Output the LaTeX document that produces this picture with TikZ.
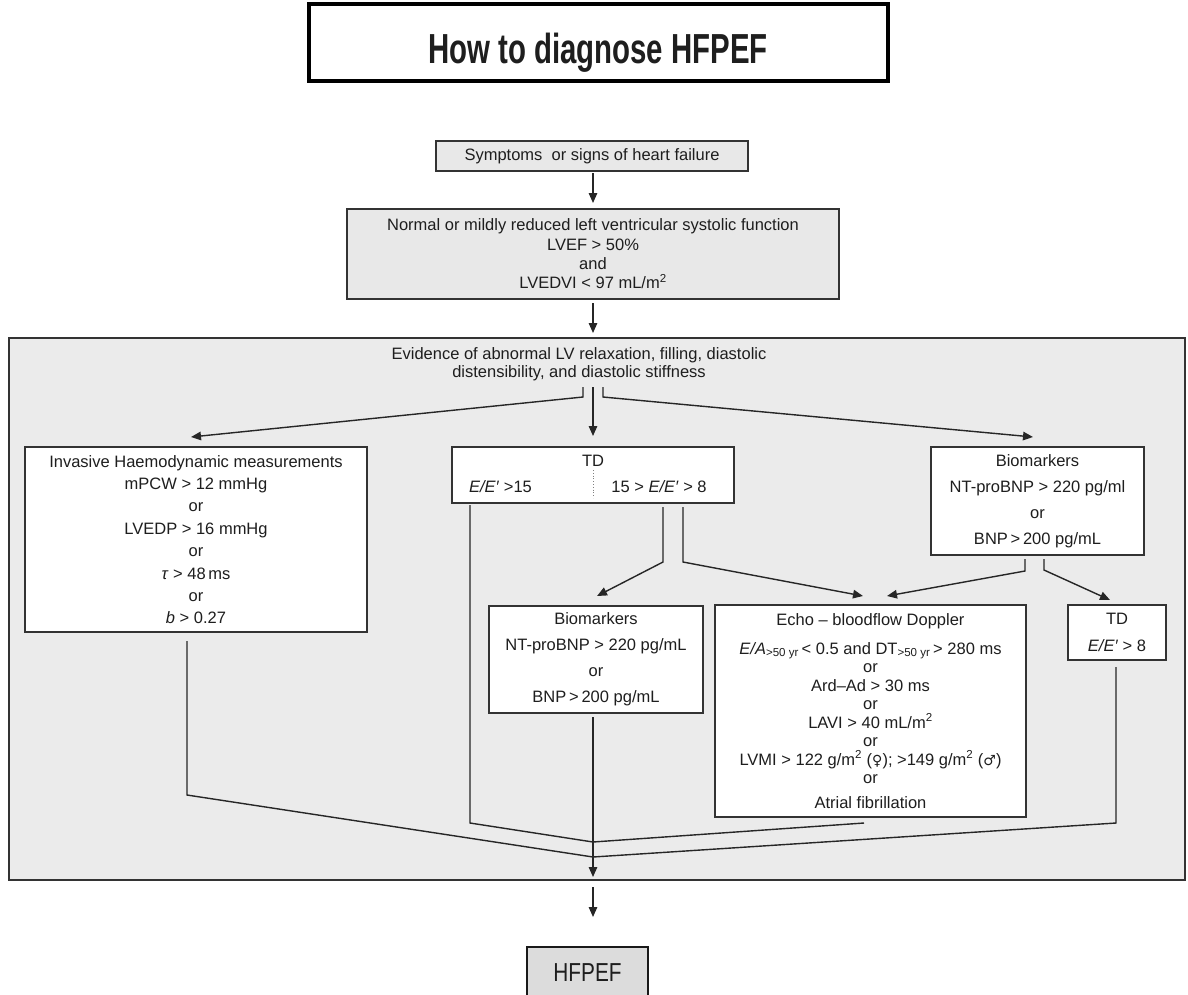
\documentclass[tikz,border=0pt]{standalone}
\usepackage{fontspec}
\setmainfont{Liberation Sans}
\newfontfamily\narrowfont[FakeStretch=0.7]{Liberation Sans}
\newfontfamily\hfnarrow[FakeStretch=0.8]{Liberation Sans}
\newfontfamily\symfont[Scale=0.85]{DejaVu Sans}
\usetikzlibrary{arrows.meta}
\definecolor{bdr}{HTML}{333333}
\definecolor{gfill}{HTML}{E8E8E8}
\definecolor{bigfill}{HTML}{EBEBEB}
\definecolor{hffill}{HTML}{DCDCDC}
\definecolor{txt}{HTML}{1E1E1E}
\newcommand{\fsz}[1]{\fontsize{16.5}{#1}\selectfont\lineskiplimit=-100pt\relax}
\begin{document}
\begin{tikzpicture}[x=1pt,y=-1pt,
  box/.style={draw=bdr, line width=1.4pt, fill=white, inner sep=0pt, align=center, text=txt},
  gbox/.style={box, fill=gfill},
  lbl/.style={inner sep=0pt, align=center, text=txt},
  conn/.style={line width=1.4pt, draw=black!85},
  arr/.style={conn, -{Triangle[length=10pt,width=8.5pt]}},
]
\useasboundingbox (0,0) rectangle (1188,994);
\clip (0,0) rectangle (1188,994);
\fill[white] (0,0) rectangle (1188,994);

% title
\node[draw=black, line width=4.5pt, minimum width=579, minimum height=77, inner sep=0pt] (title) at (598.5,42.5) {};
\node[lbl, anchor=base, font=\narrowfont\bfseries\fontsize{42}{48}\selectfont] (titletext) at (598,63) {How to diagnose HFPEF};

% top boxes
\node[gbox, minimum width=312, minimum height=30, font=\fsz{19}] (sym) at (592,156) {Symptoms\ \ or signs of heart failure};
\node[gbox, minimum width=492, minimum height=90, font=\fsz{19.3}] (norm) at (593,254)
  {Normal or mildly reduced left ventricular systolic function\\ LVEF > 50\%\\ and\\ LVEDVI < 97 mL/m\textsuperscript{2}};

% big container
\node[draw=bdr, fill=bigfill, line width=1.5pt, minimum width=1176, minimum height=542, inner sep=0pt] (big) at (597,609) {};
\node[lbl, font=\fsz{18.5}] (evid) at (579,364)
  {Evidence of abnormal LV relaxation, filling, diastolic\\ distensibility, and diastolic stiffness};

% second row
\node[box, minimum width=342, minimum height=185, font=\fsz{22.4}] (inv) at (196,539.5)
  {Invasive Haemodynamic measurements\\ mPCW > 12 mmHg\\ or\\ LVEDP > 16 mmHg\\ or\\ \textit{τ} > 48\,ms\\ or\\ \textit{b} > 0.27};
\node[box, minimum width=282, minimum height=56] (tdtop) at (593,475) {};
\node[lbl, anchor=base, font=\fsz{19}] (tdlabel) at (593,466) {TD};
\node[lbl, anchor=base, font=\fsz{19}] (tdleft) at (500.5,492) {\textit{E/E′} >15};
\node[lbl, anchor=base, font=\fsz{19}] (tdright) at (659,492) {15 > \textit{E/E′} > 8};
\draw[gray, line width=0.8pt, dotted] (593,470) -- (593,498);
\node[box, minimum width=213, minimum height=108, font=\fsz{26}] (bioR) at (1037.5,501)
  {Biomarkers\\ NT-proBNP > 220 pg/ml\\ or\\ BNP\,>\,200 pg/mL};

% third row
\node[box, minimum width=214, minimum height=107, font=\fsz{26}] (bio2) at (596,659.5)
  {Biomarkers\\ NT-proBNP > 220 pg/mL\\ or\\ BNP\,>\,200 pg/mL};
\node[box, minimum width=311, minimum height=212, font=\fsz{18.5}] (echo) at (870.5,711)
  {Echo -- bloodflow Doppler\\[10.5pt]
   \textit{E/A}\textsubscript{>50 yr}\,< 0.5 and DT\textsubscript{>50 yr}\,> 280 ms\\
   or\\ Ard--Ad > 30 ms\\ or\\ LAVI > 40 mL/m\textsuperscript{2}\\ or\\
   LVMI > 122 g/m\textsuperscript{2} ({\symfont ♀}); >149 g/m\textsuperscript{2} ({\symfont ♂})\\ or\\[6.5pt]
   Atrial fibrillation};
\node[box, minimum width=98, minimum height=55, font=\fsz{27}] (tdsmall) at (1117,632.5)
  {TD\\ \textit{E/E′} > 8};

% result
\node[draw=black!90, line width=2pt, fill=hffill, minimum width=121, minimum height=51, inner sep=0pt,
  text=txt, font=\hfnarrow\fontsize{26}{30}\selectfont] (hf) at (587.5,972.5) {HFPEF};

% coordinates for connectors
\coordinate (symB) at (593,173);
\coordinate (normT) at (593,203);
\coordinate (normB) at (593,303);
\coordinate (bigT) at (593,333);
\coordinate (eL) at (583,387);
\coordinate (eLb) at (583,397);
\coordinate (invT) at (191,437);
\coordinate (eM) at (593,387);
\coordinate (tdT) at (593,436);
\coordinate (eR) at (603,387);
\coordinate (eRb) at (603,397);
\coordinate (bioRT) at (1033,437);
\coordinate (tdA) at (470,505);
\coordinate (tdAb) at (470,823);
\coordinate (m1) at (593,842);
\coordinate (m2) at (593,857);
\coordinate (tdB) at (663,507);
\coordinate (tdBb) at (663,562);
\coordinate (bio2T) at (597,596);
\coordinate (tdC) at (683,507);
\coordinate (tdCb) at (683,562);
\coordinate (echoT1) at (863,596);
\coordinate (bA) at (1025,559);
\coordinate (bAb) at (1025,571);
\coordinate (echoT2) at (887,596);
\coordinate (bB) at (1044,559);
\coordinate (bBb) at (1044,570);
\coordinate (tdsT) at (1110,600);
\coordinate (invB) at (187,641);
\coordinate (invBb) at (187,795);
\coordinate (tdsB) at (1116,667);
\coordinate (tdsBb) at (1116,823);
\coordinate (echoB) at (864,823);
\coordinate (bio2B) at (593,717);
\coordinate (bigB) at (593,877);
\coordinate (outA) at (593,887);
\coordinate (outB) at (593,917);

% connectors
\draw[arr] (symB) -- (normT);
\draw[arr] (normB) -- (bigT);
\draw[arr] (eL) -- (eLb) -- (invT);
\draw[arr] (eM) -- (tdT);
\draw[arr] (eR) -- (eRb) -- (bioRT);
\draw[arr] (tdB) -- (tdBb) -- (bio2T);
\draw[arr] (tdC) -- (tdCb) -- (echoT1);
\draw[arr] (bA) -- (bAb) -- (echoT2);
\draw[arr] (bB) -- (bBb) -- (tdsT);
\draw[conn] (tdA) -- (tdAb) -- (m1);
\draw[conn] (echoB) -- (m1);
\draw[conn] (invB) -- (invBb) -- (m2);
\draw[conn] (tdsB) -- (tdsBb) -- (m2);
\draw[arr] (bio2B) -- (bigB);
\draw[arr] (outA) -- (outB);
\end{tikzpicture}
\end{document}
